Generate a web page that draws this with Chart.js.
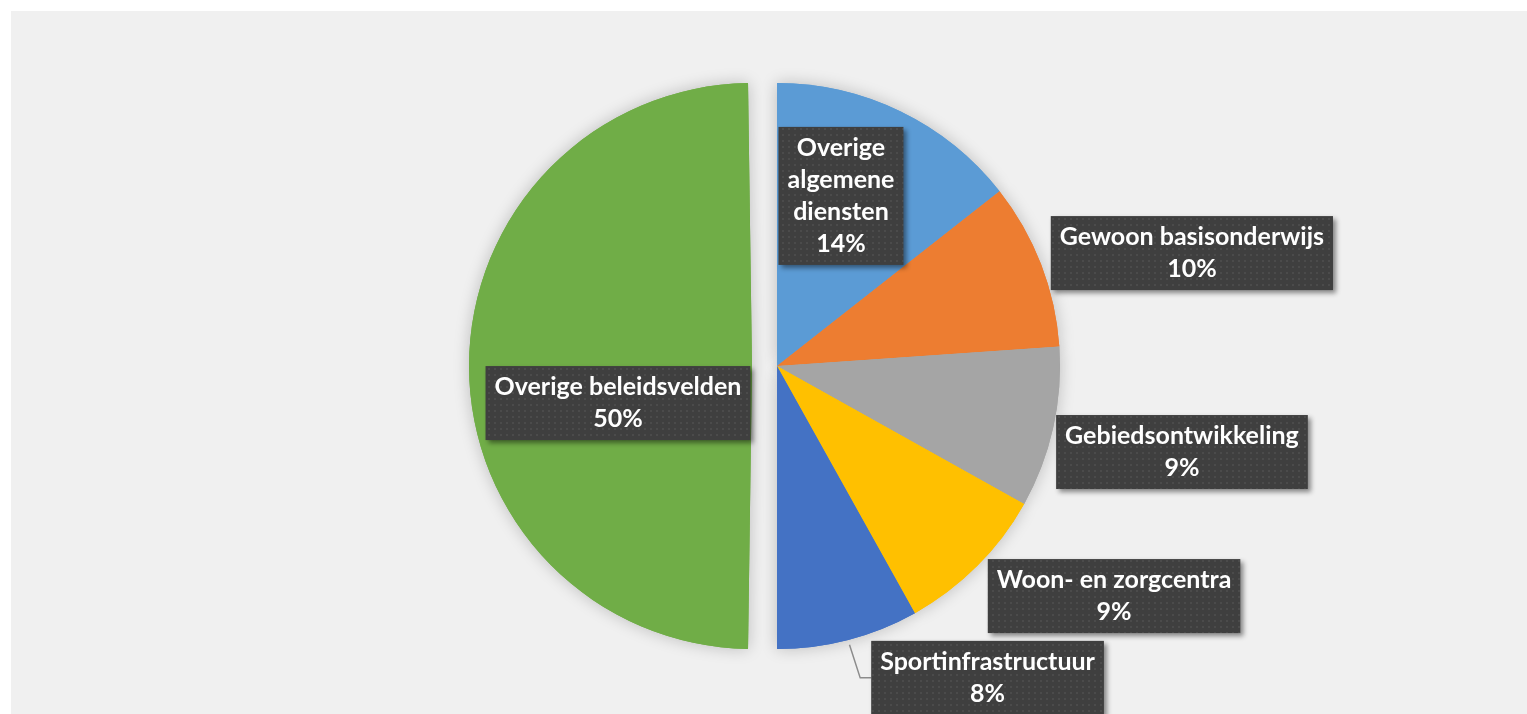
<!DOCTYPE html>
<html>
<head>
<meta charset="utf-8">
<script src="https://cdn.jsdelivr.net/npm/chart.js@4.4.0/dist/chart.umd.min.js"></script>
<style>
  html, body { margin: 0; padding: 0; background: #ffffff; overflow: hidden; }
  #bg { position: absolute; left: 11px; top: 11px; right: 0; bottom: 0; background: #f0f0f0; }
  #pie { position: absolute; left: 0; top: 0; }
</style>
</head>
<body>
<div id="bg"></div>
<canvas id="pie" width="1527" height="714"></canvas>
<script>
// data (shares in %)
var categories = ['Overige algemene diensten', 'Gewoon basisonderwijs', 'Gebiedsontwikkeling',
                  'Woon- en zorgcentra', 'Sportinfrastructuur', 'Overige beleidsvelden'];
var shares = [14.4, 9.5, 9.2, 8.8, 8.1, 50.0];
var labelLines = [['Overige', 'algemene', 'diensten'], ['Gewoon basisonderwijs'], ['Gebiedsontwikkeling'],
                  ['Woon- en zorgcentra'], ['Sportinfrastructuur'], ['Overige beleidsvelden']];

var sliceColors = ['#5b9bd5', '#ed7d31', '#a5a5a5', '#ffc000', '#4472c4', '#70ad47'];
// chart.js moves an arc by offset/4, so 100 -> 25px
var sliceOffset = [0, 0, 0, 0, 0, 100];
// label box centre, relative to pie centre, in units of the radius
var labelPos = [[0.226, -0.601], [1.466, -0.399], [1.431, 0.304], [1.191, 0.813], [0.744, 1.102], [-0.562, 0.131]];
var leader = [false, false, false, false, true, false];

// dotted fill for the label boxes
var pc = document.createElement('canvas');
pc.width = 6; pc.height = 6;
var p = pc.getContext('2d');
p.fillStyle = '#3f3f3f'; p.fillRect(0, 0, 6, 6);
p.fillStyle = '#4b4b4b'; p.fillRect(2, 2, 2, 2);

// exploded arcs also get a bigger radius in chart.js; take that back off
var keepRadius = {
  id: 'keepRadius',
  afterDatasetsUpdate: function(chart) {
    chart.getDatasetMeta(0).data.forEach(function(a, i) {
      var off = sliceOffset[i] / 4;
      if (!off) return;
      var fix = 1 - Math.sin(Math.min(Math.PI, a.circumference));
      a.outerRadius -= off * fix;
    });
  }
};

var pieShadow = {
  id: 'pieShadow',
  beforeDatasetsDraw: function(chart) {
    var ctx = chart.ctx;
    ctx.save();
    ctx.shadowColor = 'rgba(0,0,0,0.22)';
    ctx.shadowBlur = 16;
    chart.getDatasetMeta(0).data.forEach(function(a) { a.draw(ctx); });
    ctx.restore();
  }
};

var boxLabels = {
  id: 'boxLabels',
  afterDatasetsDraw: function(chart) {
    var ctx = chart.ctx;
    var arcs = chart.getDatasetMeta(0).data;
    var cx = arcs[0].x, cy = arcs[0].y, r = arcs[0].outerRadius;
    var lineH = 32, padX = 9, padY = 5;
    var pattern = ctx.createPattern(pc, 'repeat');
    ctx.save();
    ctx.font = 'bold 25px Lato';
    ctx.textAlign = 'center';
    ctx.textBaseline = 'middle';
    shares.forEach(function(v, i) {
      var lines = labelLines[i].concat([Math.round(v) + '%']);
      var w = 0;
      lines.forEach(function(t) { w = Math.max(w, ctx.measureText(t).width); });
      w += padX * 2;
      var h = lines.length * lineH + padY * 2;
      var bx = cx + labelPos[i][0] * r, by = cy + labelPos[i][1] * r;
      var left = bx - w / 2, top = by - h / 2;

      if (leader[i]) {
        var a = arcs[i];
        var mid = (a.startAngle + a.endAngle) / 2;
        ctx.beginPath();
        ctx.moveTo(a.x + Math.cos(mid) * (r + 5), a.y + Math.sin(mid) * (r + 5));
        ctx.lineTo(left - 11, by);
        ctx.lineTo(left, by);
        ctx.strokeStyle = '#8c8c8c';
        ctx.lineWidth = 1.5;
        ctx.stroke();
      }

      ctx.save();
      ctx.shadowColor = 'rgba(0,0,0,0.45)';
      ctx.shadowBlur = 5;
      ctx.shadowOffsetX = 3;
      ctx.shadowOffsetY = 3;
      ctx.fillStyle = pattern;
      ctx.fillRect(left, top, w, h);
      ctx.restore();

      ctx.fillStyle = '#ffffff';
      lines.forEach(function(t, k) {
        ctx.fillText(t, bx, top + padY + lineH / 2 + k * lineH);
      });
    });
    ctx.restore();
  }
};

new Chart(document.getElementById('pie'), {
  type: 'pie',
  data: {
    labels: categories,
    datasets: [{
      data: shares,
      backgroundColor: sliceColors,
      borderWidth: 0,
      offset: sliceOffset
    }]
  },
  options: {
    responsive: false,
    animation: false,
    radius: 283,
    layout: { padding: { left: 27, right: 0, top: 18, bottom: 0 } },
    plugins: {
      legend: { display: false },
      tooltip: { enabled: false }
    }
  },
  plugins: [keepRadius, pieShadow, boxLabels]
});
</script>
</body>
</html>
